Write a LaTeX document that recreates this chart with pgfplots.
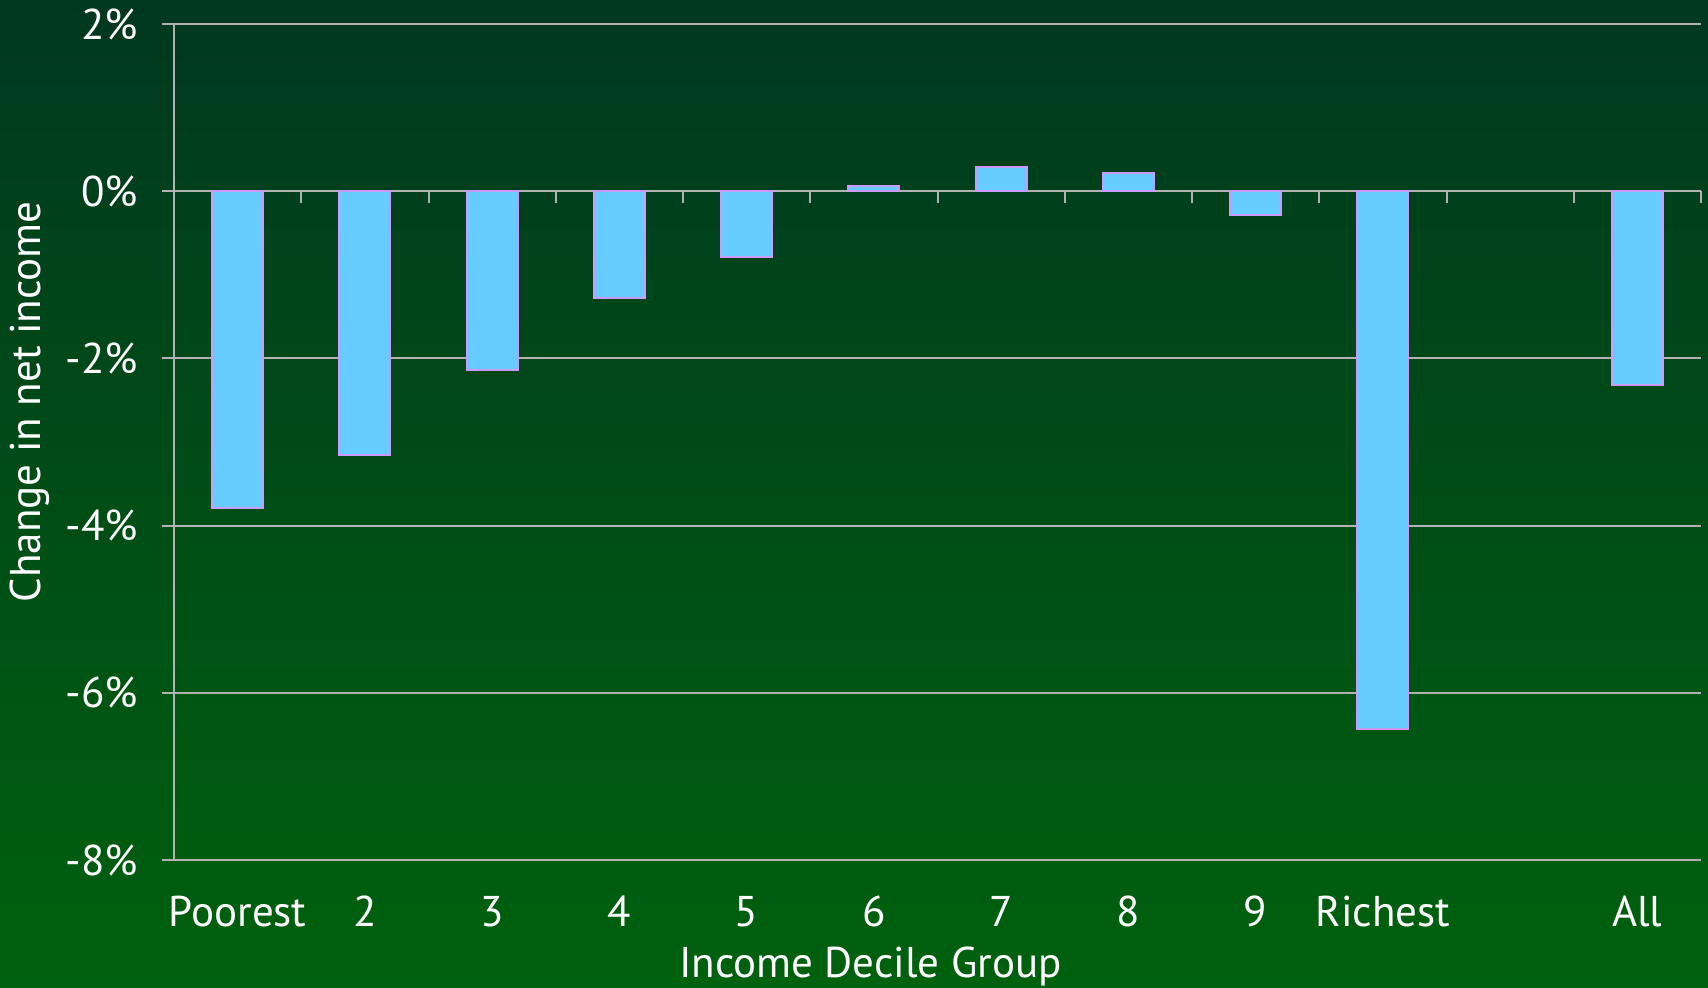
\documentclass[border=0pt]{standalone}
\usepackage{fontspec}
\setmainfont{PT Sans}
\usepackage{pgfplots}
\pgfplotsset{compat=1.18}

\definecolor{bgtop}{RGB}{0,56,31}
\definecolor{bgbot}{RGB}{0,97,14}
\definecolor{barfill}{RGB}{102,204,255}
\definecolor{baredge}{RGB}{204,153,255}
\definecolor{gridgray}{RGB}{178,178,178}

\begin{document}
\begin{tikzpicture}
% background gradient, page is 854pt x 494pt
\fill[top color=bgtop, bottom color=bgbot] (0,0) rectangle (854pt,494pt);
\useasboundingbox (0,0) rectangle (854pt,494pt);
\begin{axis}[
    at={(87pt,64pt)}, anchor=south west,
    scale only axis, width=763.5pt, height=418pt,
    xmin=-0.5, xmax=11.5, ymin=-8, ymax=2,
    axis x line*=bottom, x axis line style={draw=none},
    axis y line*=left, y axis line style={gridgray, line width=1pt, -},
    xtick={0,1,2,3,4,5,6,7,8,9,11},
    xticklabels={Poorest,2,3,4,5,6,7,8,9,Richest,All},
    x tick style={draw=none},
    ytick={-8,-6,-4,-2,0,2},
    yticklabels={-8\%,-6\%,-4\%,-2\%,0\%,2\%},
    y tick style={gridgray, line width=1pt},
    tick align=outside, major tick length=6pt,
    ymajorgrids, grid style={gridgray, line width=1pt},
    font=\fontsize{21.5}{26}\selectfont,
    tick label style={white, font=\fontsize{21.5}{26}\selectfont},
    xticklabel style={anchor=base, yshift=-27.5pt},
    yticklabel style={anchor=east, xshift=-8.5pt},
    xlabel={Income Decile Group},
    ylabel={Change in net income},
    every axis x label/.style={at={(rel axis cs:0.456,0)}, anchor=center, yshift=-53.5pt, white},
    every axis y label/.style={at={(rel axis cs:0,0.548)}, anchor=center, xshift=-72pt, rotate=90, white},
    clip=false,
]
\addplot[ybar, bar width=0.40, fill=barfill, draw=baredge, line width=1pt] coordinates {
    (0,-3.79) (1,-3.15) (2,-2.14) (3,-1.28) (4,-0.79)
    (5,0.06) (6,0.29) (7,0.22) (8,-0.29) (9,-6.43) (11,-2.32)
};
% category separator ticks on the zero line
\pgfplotsinvokeforeach{0.5,1.5,2.5,3.5,4.5,5.5,6.5,7.5,8.5,9.5,10.5,11.5}{
    \draw[gridgray, line width=1pt] (axis cs:#1,0) -- ([yshift=-6pt]axis cs:#1,0);
}
\end{axis}
\end{tikzpicture}
\end{document}
